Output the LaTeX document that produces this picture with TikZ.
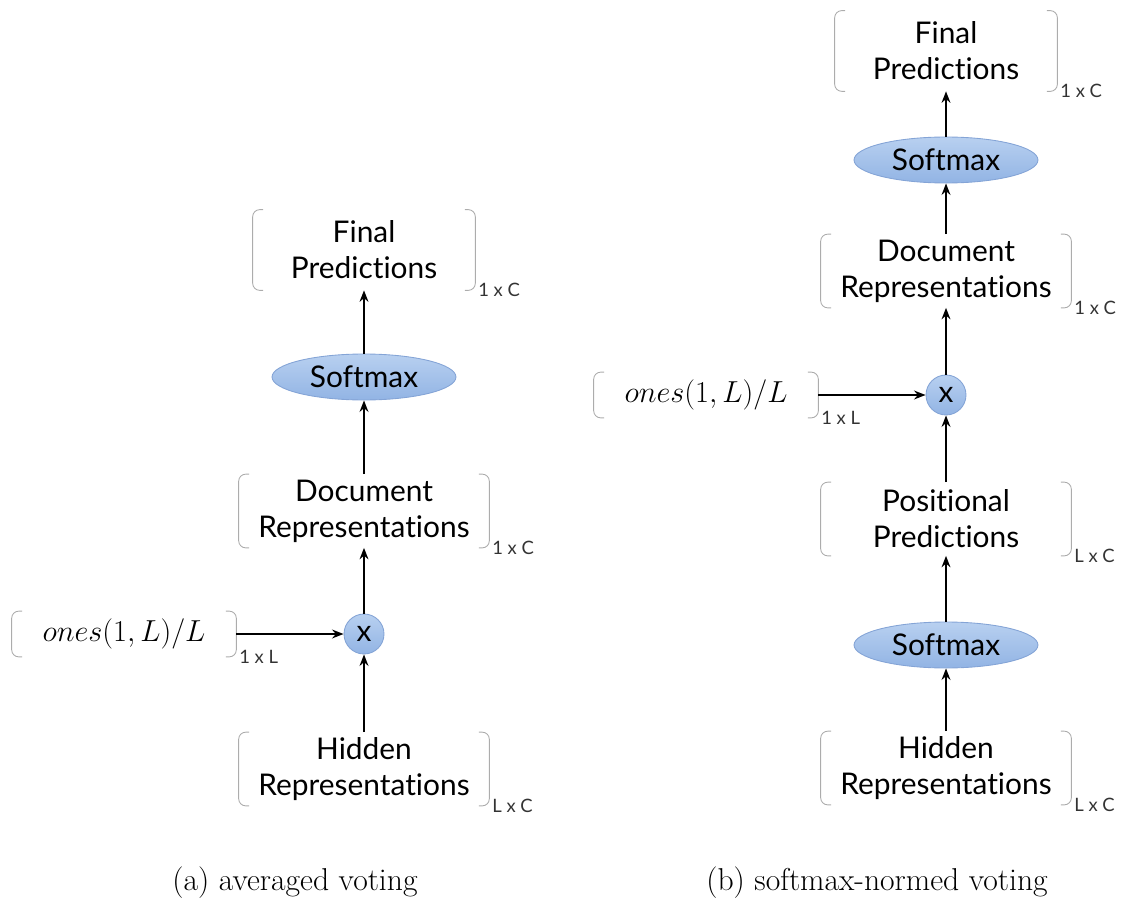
\documentclass[tikz,border=0pt]{standalone}
\usepackage{fontspec}
\newfontfamily\diagfont{Lato}[Ligatures={NoCommon,NoContextual}]
\usetikzlibrary{shapes.geometric, arrows.meta}
\definecolor{balltop}{RGB}{184,208,240}
\definecolor{ballbot}{RGB}{146,180,228}
\definecolor{ballline}{RGB}{132,164,214}
\begin{document}
\begin{tikzpicture}[
  x=0.02cm, y=-0.02cm,
  vec/.style = {font=\diagfont\fontsize{17}{20.5}\selectfont, align=center, inner sep=0pt},
  finbox/.style = {vec, minimum width=4.44cm, minimum height=1.6cm},
  repbox/.style = {vec, minimum width=5cm, minimum height=1.46cm},
  onebox/.style = {vec, minimum width=4.48cm, minimum height=0.9cm, font=\fontsize{17}{20}\selectfont},
  brk/.style = {gray!65, line width=0.5pt, rounded corners=4pt},
  op/.style = {draw=ballline, line width=0.5pt, top color=balltop, bottom color=ballbot,
    inner sep=0pt, font=\diagfont\fontsize{17}{20}\selectfont},
  sm/.style = {op, ellipse, minimum width=3.68cm, minimum height=0.92cm},
  mul/.style = {op, circle, minimum size=0.8cm},
  sub/.style = {font=\diagfont\fontsize{10.5}{12}\selectfont, anchor=west, inner sep=1.5pt, text=black!80},
  arr/.style = {-{Stealth[length=6.5pt, width=5pt]}, line width=1.1pt},
  captxt/.style = {font=\fontsize{18}{21}\selectfont}
]
  \useasboundingbox (0,0) rectangle (1122,902);
  % (a) averaged voting
  \node[finbox, label={[sub]south east:1 x C}] (finA) at (364,250) {Final\\Predictions};
  \node[sm] (smA) at (364,377) {Softmax};
  \node[repbox, label={[sub]south east:1 x C}] (docA) at (364,511) {Document\\Representations};
  \node[mul] (xA) at (364,634) {x};
  \node[onebox, label={[sub]south east:1 x L}] (oneA) at (124,634) {$ones(1,L)/L$};
  \node[repbox, label={[sub]south east:L x C}] (hidA) at (364,769) {Hidden\\Representations};
  \node[captxt] (capA) at (295,883) {(a) averaged voting};
  % (b) softmax-normed voting
  \node[finbox, label={[sub]south east:1 x C}] (finB) at (946,51) {Final\\Predictions};
  \node[sm] (smB2) at (946,160) {Softmax};
  \node[repbox, label={[sub]south east:1 x C}] (docB) at (946,271) {Document\\Representations};
  \node[mul] (xB) at (946,395) {x};
  \node[onebox, label={[sub]south east:1 x L}] (oneB) at (706,395) {$ones(1,L)/L$};
  \node[repbox, label={[sub]south east:L x C}] (posB) at (946,519) {Positional\\Predictions};
  \node[sm] (smB1) at (946,645) {Softmax};
  \node[repbox, label={[sub]south east:L x C}] (hidB) at (946,768) {Hidden\\Representations};
  \node[captxt] (capB) at (877,883) {(b) softmax-normed voting};
  % brackets
  \foreach \n in {finA,docA,oneA,hidA,finB,docB,oneB,posB,hidB}{
    \draw[brk] ([xshift=6pt]\n.north west) -| (\n.south west) -- ([xshift=6pt]\n.south west);
    \draw[brk] ([xshift=-6pt]\n.north east) -| (\n.south east) -- ([xshift=-6pt]\n.south east);
  }
  % arrows
  \draw[arr] (hidA) -- (xA);
  \draw[arr] (oneA) -- (xA);
  \draw[arr] (xA) -- (docA);
  \draw[arr] (docA) -- (smA);
  \draw[arr] (smA) -- (finA);
  \draw[arr] (hidB) -- (smB1);
  \draw[arr] (smB1) -- (posB);
  \draw[arr] (posB) -- (xB);
  \draw[arr] (oneB) -- (xB);
  \draw[arr] (xB) -- (docB);
  \draw[arr] (docB) -- (smB2);
  \draw[arr] (smB2) -- (finB);
\end{tikzpicture}
\end{document}
